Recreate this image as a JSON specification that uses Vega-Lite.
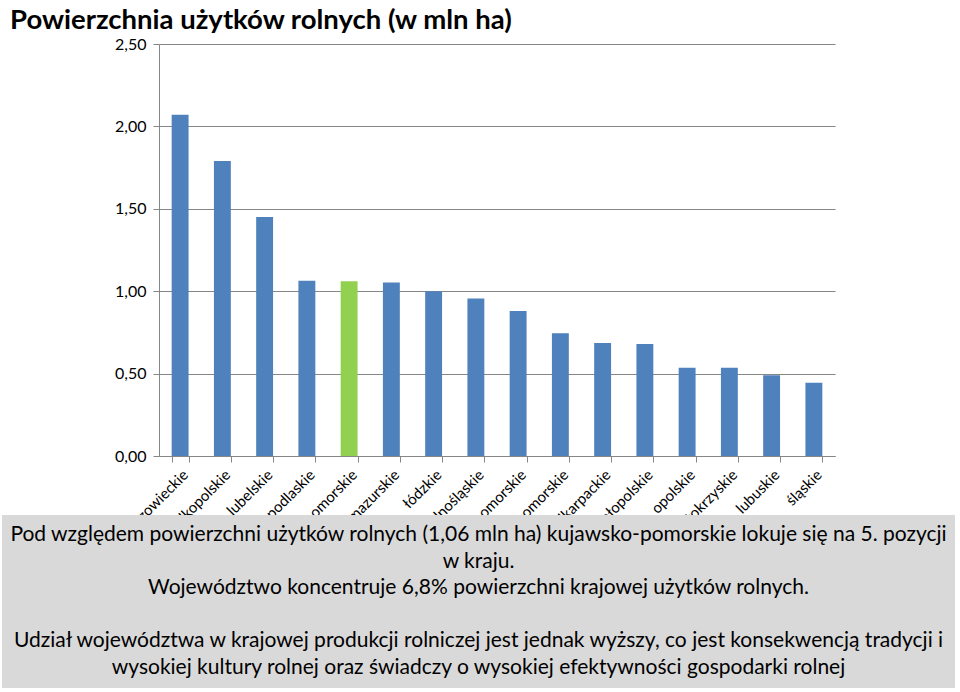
{
  "$schema": "https://vega.github.io/schema/vega-lite/v6.json",
  "padding": {"left": 2, "top": 6, "right": 0, "bottom": 0},
  "background": "white",
  "title": {
    "text": "Powierzchnia użytków rolnych (w mln ha)",
    "anchor": "start",
    "frame": "bounds",
    "font": "Lato",
    "fontSize": 27.5,
    "fontWeight": "bold",
    "color": "#000000",
    "dx": 8,
    "offset": 2
  },
  "config": {"view": {"stroke": null}},
  "columns": 1,
  "align": {"row": "none", "column": "each"},
  "bounds": "full",
  "center": true,
  "spacing": -64,
  "concat": [
    {
      "width": 676,
      "height": 412,
      "data": {
        "values": [
          {"woj": "mazowieckie", "wartosc": 2.07},
          {"woj": "wielkopolskie", "wartosc": 1.79},
          {"woj": "lubelskie", "wartosc": 1.45},
          {"woj": "podlaskie", "wartosc": 1.063},
          {"woj": "kujawsko-pomorskie", "wartosc": 1.06},
          {"woj": "warmińsko-mazurskie", "wartosc": 1.053},
          {"woj": "łódzkie", "wartosc": 1.0},
          {"woj": "dolnośląskie", "wartosc": 0.955},
          {"woj": "zachodniopomorskie", "wartosc": 0.88},
          {"woj": "pomorskie", "wartosc": 0.745},
          {"woj": "podkarpackie", "wartosc": 0.685},
          {"woj": "małopolskie", "wartosc": 0.68},
          {"woj": "opolskie", "wartosc": 0.535},
          {"woj": "świętokrzyskie", "wartosc": 0.535},
          {"woj": "lubuskie", "wartosc": 0.49},
          {"woj": "śląskie", "wartosc": 0.445}
        ]
      },
      "mark": {"type": "bar"},
      "encoding": {
        "x": {
          "field": "woj",
          "type": "nominal",
          "sort": null,
          "scale": {"paddingInner": 0.6, "paddingOuter": 0.3},
          "axis": {
            "title": null,
            "labelAngle": -45,
            "labelFont": "Lato",
            "labelFontSize": 15,
            "labelColor": "#000000",
            "labelPadding": 5,
            "tickBand": "extent",
            "tickSize": 6,
            "tickColor": "#868686",
            "domainColor": "#868686",
            "labelOverlap": false
          }
        },
        "y": {
          "field": "wartosc",
          "type": "quantitative",
          "scale": {"domain": [0, 2.5], "nice": false},
          "axis": {
            "title": null,
            "values": [0, 0.5, 1, 1.5, 2, 2.5],
            "labelExpr": "replace(format(datum.value, '.2f'), '.', ',')",
            "labelFont": "Lato",
            "labelFontSize": 16,
            "labelColor": "#000000",
            "labelPadding": 7,
            "tickSize": 6,
            "tickColor": "#868686",
            "domainColor": "#868686",
            "gridColor": "#868686",
            "gridOpacity": 1
          }
        },
        "color": {
          "condition": {"test": "datum.woj === 'kujawsko-pomorskie'", "value": "#92d050"},
          "value": "#4f81bd"
        }
      }
    },
    {
      "width": 953,
      "height": 173,
      "view": {"fill": "#d9d9d9", "stroke": null},
      "data": {
        "values": [
          {"linia": 1, "tekst": "Pod względem powierzchni użytków rolnych (1,06 mln ha) kujawsko-pomorskie lokuje się na 5. pozycji"},
          {"linia": 2, "tekst": "w kraju."},
          {"linia": 3, "tekst": "Województwo koncentruje 6,8% powierzchni krajowej użytków rolnych."},
          {"linia": 5, "tekst": "Udział województwa w krajowej produkcji rolniczej jest jednak wyższy, co jest konsekwencją tradycji i"},
          {"linia": 6, "tekst": "wysokiej kultury rolnej oraz świadczy o wysokiej efektywności gospodarki rolnej"}
        ]
      },
      "mark": {"type": "text", "font": "Lato", "fontSize": 21, "color": "#000000", "align": "center", "baseline": "middle"},
      "encoding": {
        "y": {
          "field": "linia",
          "type": "ordinal",
          "scale": {"type": "point", "domain": [1, 2, 3, 4, 5, 6], "padding": 0.75},
          "axis": {
            "orient": "right",
            "title": null,
            "labels": false,
            "ticks": false,
            "domain": false,
            "grid": false,
            "minExtent": 37,
            "maxExtent": 37
          }
        },
        "text": {"field": "tekst"}
      }
    }
  ]
}
